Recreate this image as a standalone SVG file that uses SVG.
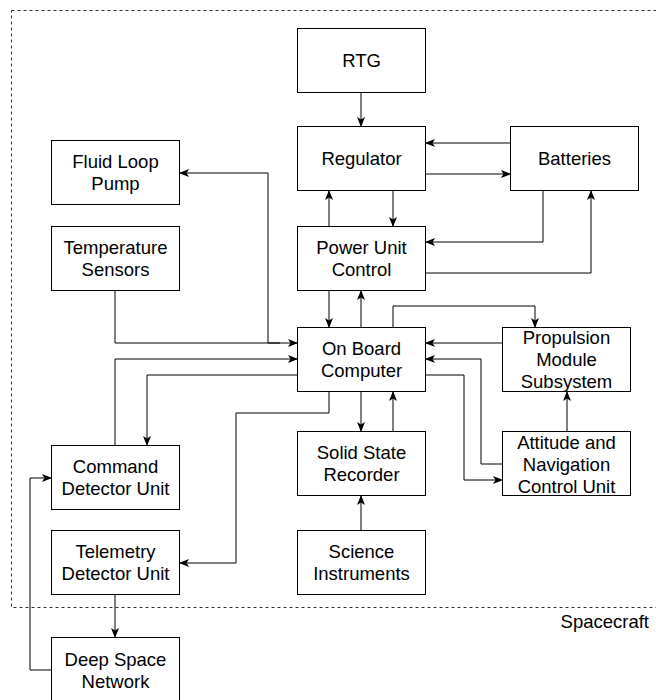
<svg xmlns="http://www.w3.org/2000/svg" width="656" height="700" viewBox="0 0 656 700">
<defs>
<marker id="arr" markerUnits="userSpaceOnUse" markerWidth="10" markerHeight="10" viewBox="0 0 10 10" refX="9.5" refY="5" orient="auto">
<path d="M0,1 L10,5 L0,9 L2.5,5 z" fill="#000"/>
</marker>
<style>
.box{fill:#fff;stroke:#000;stroke-width:1}
.lbl{font-family:"Liberation Sans",Arial,Helvetica,sans-serif;font-size:18.5px;fill:#000;text-anchor:middle}
.c{fill:none;stroke:#000;stroke-width:1;marker-end:url(#arr)}
.nc{fill:none;stroke:#000;stroke-width:1}
</style>
</defs>
<rect x="0" y="0" width="656" height="700" fill="#fff"/>
<g id="spacecraft">
<rect x="11.5" y="10.5" width="700" height="597" fill="none" stroke="#333" stroke-width="1" stroke-dasharray="3 3"/>
<text class="lbl" x="649" y="628" style="text-anchor:end">Spacecraft</text>
</g>
<g id="connectors">
<path class="c" d="M361,92.5 V126.5"/>
<path class="c" d="M510.5,143 H425.5"/>
<path class="c" d="M425.5,174 H510.5"/>
<path class="c" d="M393,190.5 V226.5"/>
<path class="c" d="M329,226.5 V190.5"/>
<path class="c" d="M543,190.5 V242 H425.5"/>
<path class="c" d="M425.5,273 H591 V190.5"/>
<path class="c" d="M329,290.5 V327.5"/>
<path class="c" d="M361,327.5 V290.5"/>
<path class="c" d="M280,343 H268 V173 H179.5"/>
<path class="c" d="M115,290.5 V343 H297.5"/>
<path class="c" d="M115,445.5 V359 H297.5"/>
<path class="c" d="M297.5,375 H147 V445.5"/>
<path class="c" d="M329,391.5 V413 H236 V563 H179.5"/>
<path class="c" d="M361,391.5 V431.5"/>
<path class="c" d="M393,431.5 V391.5"/>
<path class="c" d="M361,530.5 V495.5"/>
<path class="c" d="M393,327.5 V306 H535 V327.5"/>
<path class="c" d="M502.5,343 H425.5"/>
<path class="c" d="M502.5,464 H481 V359 H425.5"/>
<path class="c" d="M425.5,375 H464 V480 H502.5"/>
<path class="c" d="M567,431.5 V391.5"/>
<path class="c" d="M115,594.5 V637.5"/>
<path class="c" d="M51.5,670 H30 V478 H51.5"/>
</g>
<g id="rtg"><rect class="box" x="297.5" y="28.5" width="128" height="64"/><text class="lbl" x="361.5" y="67">RTG</text></g>
<g id="regulator"><rect class="box" x="297.5" y="126.5" width="128" height="64"/><text class="lbl" x="361.5" y="165">Regulator</text></g>
<g id="batteries"><rect class="box" x="510.5" y="126.5" width="128" height="64"/><text class="lbl" x="574.5" y="165">Batteries</text></g>
<g id="fluid-loop-pump"><rect class="box" x="51.5" y="140.5" width="128" height="64"/><text class="lbl" x="115.5" y="168">Fluid Loop</text><text class="lbl" x="115.5" y="190">Pump</text></g>
<g id="temperature-sensors"><rect class="box" x="51.5" y="226.5" width="128" height="64"/><text class="lbl" x="115.5" y="254">Temperature</text><text class="lbl" x="115.5" y="276">Sensors</text></g>
<g id="power-unit-control"><rect class="box" x="297.5" y="226.5" width="128" height="64"/><text class="lbl" x="361.5" y="254">Power Unit</text><text class="lbl" x="361.5" y="276">Control</text></g>
<g id="on-board-computer"><rect class="box" x="297.5" y="327.5" width="128" height="64"/><text class="lbl" x="361.5" y="355">On Board</text><text class="lbl" x="361.5" y="377">Computer</text></g>
<g id="propulsion-module"><rect class="box" x="502.5" y="327.5" width="128" height="64"/><text class="lbl" x="566.5" y="344">Propulsion</text><text class="lbl" x="566.5" y="366">Module</text><text class="lbl" x="566.5" y="388">Subsystem</text></g>
<g id="solid-state-recorder"><rect class="box" x="297.5" y="431.5" width="128" height="64"/><text class="lbl" x="361.5" y="459">Solid State</text><text class="lbl" x="361.5" y="481">Recorder</text></g>
<g id="attitude-navigation"><rect class="box" x="502.5" y="431.5" width="128" height="64"/><text class="lbl" x="566.5" y="449">Attitude and</text><text class="lbl" x="566.5" y="471">Navigation</text><text class="lbl" x="566.5" y="493">Control Unit</text></g>
<g id="command-detector-unit"><rect class="box" x="51.5" y="445.5" width="128" height="64"/><text class="lbl" x="115.5" y="473">Command</text><text class="lbl" x="115.5" y="495">Detector Unit</text></g>
<g id="telemetry-detector-unit"><rect class="box" x="51.5" y="530.5" width="128" height="64"/><text class="lbl" x="115.5" y="558">Telemetry</text><text class="lbl" x="115.5" y="580">Detector Unit</text></g>
<g id="science-instruments"><rect class="box" x="297.5" y="530.5" width="128" height="64"/><text class="lbl" x="361.5" y="558">Science</text><text class="lbl" x="361.5" y="580">Instruments</text></g>
<g id="deep-space-network"><rect class="box" x="51.5" y="637.5" width="128" height="64"/><text class="lbl" x="115.5" y="666">Deep Space</text><text class="lbl" x="115.5" y="688">Network</text></g>
</svg>
